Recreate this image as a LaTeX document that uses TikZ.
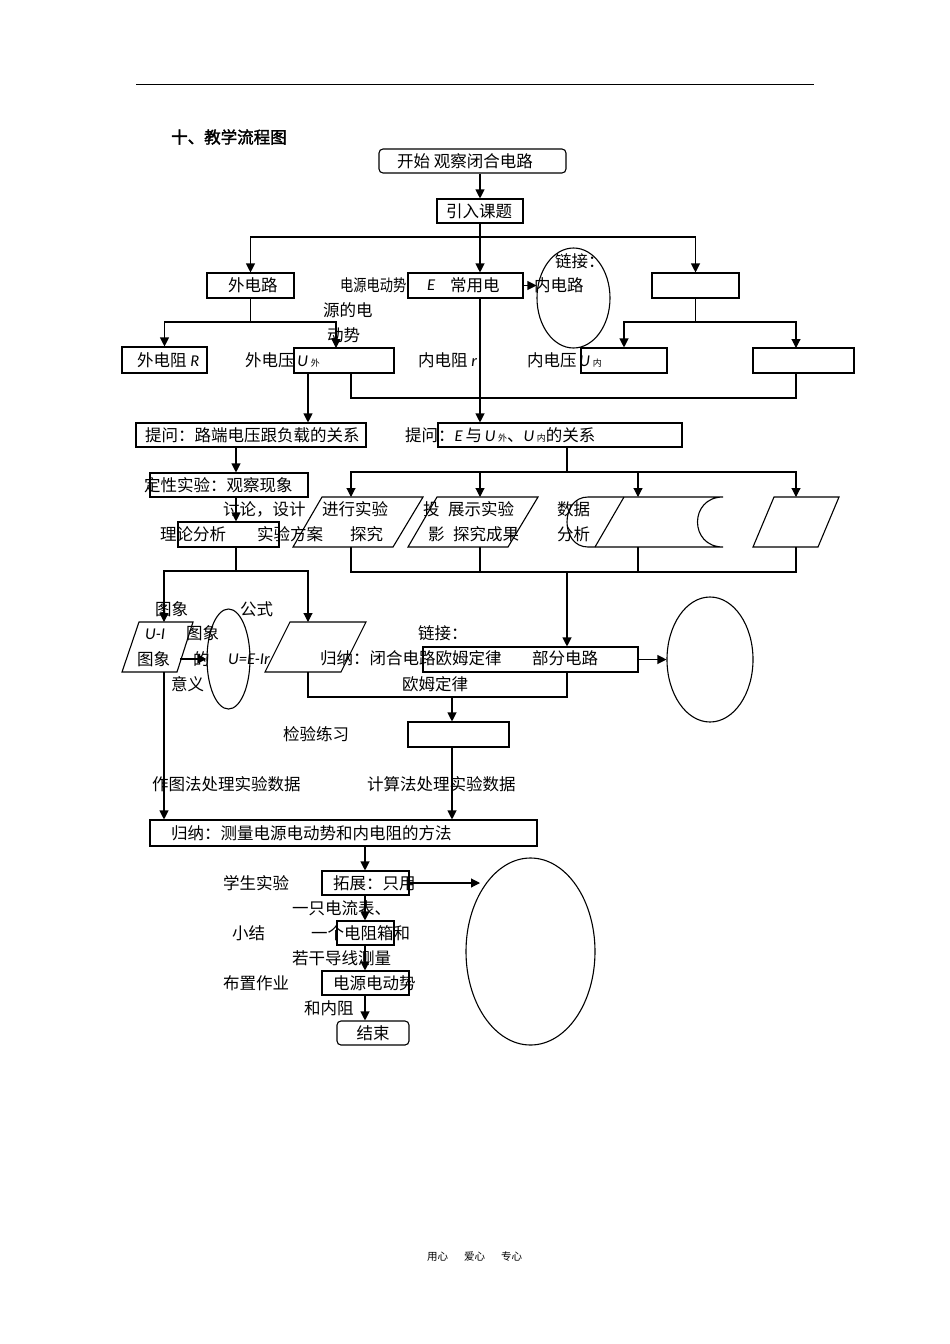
\documentclass[tikz,border=0pt]{standalone}
\usepackage{fontspec}
\usepackage{graphicx}
\setmainfont{Noto Sans CJK SC}
\newfontfamily\latf{Carlito}
\newfontfamily\zhbold{Noto Sans CJK SC}[FakeBold=2]
\usetikzlibrary{arrows.meta,shapes.geometric,fit,calc}
\newcommand\zsz{\fontsize{16.5}{18}\selectfont}
\newcommand\lt[1]{{\latf\itshape #1}}
\newcommand\zsub[1]{{\fontsize{9}{10}\selectfont #1}}
\begin{document}
\begin{tikzpicture}[x=1pt,y=-1pt,
  ln/.style={line width=1.1pt},
  arr/.style={line width=1.1pt,-{Triangle[length=9pt,width=9pt]}},
  box/.style={draw,line width=1.1pt,inner sep=0pt},
  txt/.style={inner sep=0pt,anchor=west,font=\zsz},
  ell/.style={draw,line width=1.1pt,ellipse,inner sep=0pt},
  shp/.style={draw,line width=1.1pt,line join=miter}]
\useasboundingbox (0,0) rectangle (950,1344);

% header rule and title
\draw[line width=0.8pt] (136,84) -- (814,84);
\node[txt,font=\zsz\zhbold] (title) at (171,137) {十、教学流程图};

% ---------- boxes ----------
\node[box,rounded corners=4pt,fit={(379,149)(566,173)}] (start) {};
\node[box,fit={(437,199)(523,223)}] (intro) {};
\node[box,fit={(207,273)(294,298)}] (wdl) {};
\node[box,fit={(408,273)(523,298)}] (dy) {};
\node[box,fit={(652,273)(739,298)}] (rb1) {};
\node[box,fit={(122,347)(207,373)}] (wdz) {};
\node[box,fit={(294,348)(394,373)}] (wy) {};
\node[box,fit={(581,348)(667,373)}] (ny) {};
\node[box,fit={(753,348)(854,373)}] (rb2) {};
\node[box,fit={(136,423)(366,447)}] (tw1) {};
\node[box,fit={(438,423)(682,447)}] (tw2) {};
\node[box,fit={(150,473)(308,497)}] (dx) {};
\node[box,fit={(178,522)(279,547)}] (ll) {};
\node[box,fit={(423,647)(638,672)}] (bh) {};
\node[box,fit={(408,722)(509,747)}] (jy) {};
\node[box,fit={(150,820)(537,846)}] (gn2) {};
\node[box,fit={(322,871)(409,895)}] (tz) {};
\node[box,fit={(337,921)(394,945)}] (dz) {};
\node[box,fit={(322,971)(409,995)}] (ddl) {};
\node[box,rounded corners=4pt,fit={(337,1021)(409,1045)}] (endb) {};

% ---------- ellipses ----------
\node[ell,minimum width=73pt,minimum height=100pt] (e1) at (573.5,298) {};
\node[ell,minimum width=86pt,minimum height=125pt] (e2) at (710,659.5) {};
\node[ell,minimum width=43pt,minimum height=100pt] (e3) at (228.5,659) {};
\node[ell,minimum width=129pt,minimum height=187pt] (e4) at (530.5,951.5) {};

% ---------- parallelograms and stored-data shape ----------
\draw[shp] (322,497) -- (423,497) -- (393,547) -- (293,547) -- cycle;
\draw[shp] (437,497) -- (538,497) -- (508,547) -- (408,547) -- cycle;
\draw[shp] (588,497) -- (723,497)
  .. controls (689,497) and (689,547) .. (723,547) -- (588,547)
  .. controls (560,547) and (560,497) .. (588,497);
\draw[shp] (624,497) -- (595,547);
\draw[shp] (774,497) -- (839,497) -- (818,547) -- (753,547) -- cycle;
\draw[shp] (139,622) -- (193,622) -- (177,672) -- (122,672) -- cycle;
\draw[shp] (290,622) -- (366,622) -- (341,672) -- (265,672) -- cycle;

% ---------- named points ----------
\coordinate (j1) at (480,237);
\coordinate (j2) at (695.5,322);
\coordinate (k2) at (796,348);
\coordinate (r1) at (796,398);
\coordinate (c351) at (351,373);
\coordinate (j3) at (250.5,322);
\coordinate (k3) at (336,348);
\coordinate (c308) at (308,373);
\coordinate (c236) at (236,447);
\coordinate (j4) at (236,571);
\coordinate (uit) at (164,622);
\coordinate (uib) at (164,672);
\coordinate (uir) at (180,659);
\coordinate (gnt) at (308,622);
\coordinate (gnb) at (308,672);
\coordinate (r2) at (308,697);
\coordinate (j5) at (567,472);
\coordinate (p1t) at (351,497);
\coordinate (p2t) at (480,497);
\coordinate (p3t) at (638,497);
\coordinate (p4t) at (796,497);
\coordinate (p1b) at (351,547);
\coordinate (p2b) at (480,547);
\coordinate (p3b) at (638,547);
\coordinate (p4b) at (796,547);
\coordinate (q1) at (351,572);
\coordinate (q4) at (796,572);
\coordinate (j6) at (567,572);
\coordinate (j7) at (452,697);
\coordinate (c365) at (365,846);
\coordinate (t4) at (480,883);

% ---------- connectors ----------
\draw[arr] (start.south -| intro.north) -- (intro.north);
\draw[ln] (intro.south) -- (j1);
\draw[arr] (j1) -| (wdl.north);
\draw[arr] (j1) -- (j1 |- dy.north);
\draw[arr] (j1) -| (rb1.north);
\draw[arr] (dy.east) -- (dy.east -| e1.west);
\draw[ln] (rb1.south) -- (j2);
\draw[arr] (j2) -| (ny.north);
\draw[arr] (j2) -| (k2);
\draw[ln] (rb2.south -| k2) -- (r1) -| (c351);
\draw[ln] (wdl.south) -- (j3);
\draw[arr] (j3) -| (wdz.north);
\draw[arr] (j3) -| (k3);
\draw[arr] (dy.south -| j1) -- (tw2.north -| j1);
\draw[arr] (c308) -- (c308 |- tw1.north);
\draw[arr] (c236) -- (c236 |- dx.north);
\draw[arr] (c236 |- dx.south) -- (c236 |- ll.north);
\draw[ln] (c236 |- ll.south) -- (j4);
\draw[arr] (j4) -| (uit);
\draw[arr] (j4) -| (gnt);
\draw[ln] (tw2.south -| j5) -- (j5);
\draw[arr] (j5) -| (p1t);
\draw[arr] (j5) -| (p2t);
\draw[arr] (j5) -| (p3t);
\draw[arr] (j5) -| (p4t);
\draw[ln] (p1b) -- (q1) -- (q4) -- (p4b);
\draw[ln] (p2b) -- (p2b |- q1);
\draw[ln] (p3b) -- (p3b |- q1);
\draw[arr] (j6) -- (j6 |- bh.north);
\draw[arr] (bh.east) -- (e2.west);
\draw[ln] (gnb) -- (r2) -| (j6 |- bh.south);
\draw[arr] (j7) -- (j7 |- jy.north);
\draw[arr] (uib) -- (uib |- gn2.north);
\draw[arr] (uir) -- (e3.west);
\draw[arr] (jy.south -| j7) -- (j7 |- gn2.north);
\draw[arr] (c365) -- (c365 |- tz.north);
\draw[arr] (tz.east) -- (t4);
\draw[arr] (c365 |- tz.south) -- (c365 |- dz.north);
\draw[arr] (c365 |- dz.south) -- (c365 |- ddl.north);
\draw[arr] (c365 |- ddl.south) -- (c365 |- endb.north);

% ---------- texts ----------
\node[txt] (t1) at (397,161) {开始 观察闭合电路};
\node[txt] (t2) at (446,211) {引入课题};
\node[txt] (t3) at (228,285) {外电路};
\node[txt] (t4a) at (340,285) {\scalebox{0.8}[1]{电源电动势}};
\node[txt] (t4b) at (427,285) {\lt{E}};
\node[txt] (t4c) at (450,285) {常用电};
\node[txt] (t5) at (323,310) {源的电};
\node[txt] (t6) at (327,335) {动势};
\node[txt] (t7) at (555,261) {链接：};
\node[txt] (t8) at (534,285) {内电路};
\node[txt] (t9) at (137,360) {外电阻 \lt{R}};
\node[txt] (t10) at (245,360) {外电压\,\lt{U}\,\zsub{外}};
\node[txt] (t11) at (418,360) {内电阻 \lt{r}};
\node[txt] (t12) at (527,360) {内电压\,\lt{U}\,\zsub{内}};
\node[txt] (t13) at (145,435) {提问：路端电压跟负载的关系};
\node[txt] (t14) at (405,435) {提问：\lt{E}\,与\,\lt{U}\,\zsub{外}、\lt{U}\,\zsub{内}的关系};
\node[txt] (t15) at (144,485) {定性实验：观察现象};
\node[txt] (t16) at (223,509) {讨论，设计};
\node[txt] (t17) at (322,509) {进行实验};
\node[txt] (t18) at (160,534) {理论分析};
\node[txt] (t19) at (257,534) {实验方案};
\node[txt] (t20) at (350,534) {探究};
\node[txt] (t21) at (423,509) {投};
\node[txt] (t22) at (428,534) {影};
\node[txt] (t23) at (448,509) {展示实验};
\node[txt] (t24) at (453,534) {探究成果};
\node[txt] (t25) at (557,509) {数据};
\node[txt] (t26) at (557,534) {分析};
\node[txt] (t27) at (155,609) {图象};
\node[txt] (t28) at (240,609) {公式};
\node[txt] (t29) at (145,634) {\lt{U-I}};
\node[txt] (t30) at (137,659) {图象};
\node[txt] (t31) at (186,633) {图象};
\node[txt] (t32) at (193,659) {的};
\node[txt] (t33) at (171,684) {意义};
\node[txt] (t34) at (228,659) {\lt{U=E-Ir}};
\node[txt] (t35) at (418,633) {链接：};
\node[txt] (t36) at (320,658) {归纳：闭合电路欧姆定律};
\node[txt] (t37) at (532,658) {部分电路};
\node[txt] (t38) at (402,684) {欧姆定律};
\node[txt] (t39) at (283,734) {检验练习};
\node[txt] (t40) at (152,784) {作图法处理实验数据};
\node[txt] (t41) at (367,784) {计算法处理实验数据};
\node[txt] (t42) at (171,833) {归纳：测量电源电动势和内电阻的方法};
\node[txt] (t43) at (223,883) {学生实验};
\node[txt] (t44) at (333,883) {拓展：只用};
\node[txt] (t45) at (292,908) {一只电流表、};
\node[txt] (t46) at (232,933) {小结};
\node[txt] (t47) at (311,933) {一个电阻箱和};
\node[txt] (t48) at (292,958) {若干导线测量};
\node[txt] (t49) at (223,983) {布置作业};
\node[txt] (t50) at (333,983) {电源电动势};
\node[txt] (t51) at (304,1008) {和内阻};
\node[txt,anchor=center] (t52) at (373,1033) {结束};
\node[txt,font=\fontsize{10.5}{12}\selectfont] (foot) at (427,1257) {用心\hspace{16pt}爱心\hspace{16pt}专心};
\end{tikzpicture}
\end{document}
